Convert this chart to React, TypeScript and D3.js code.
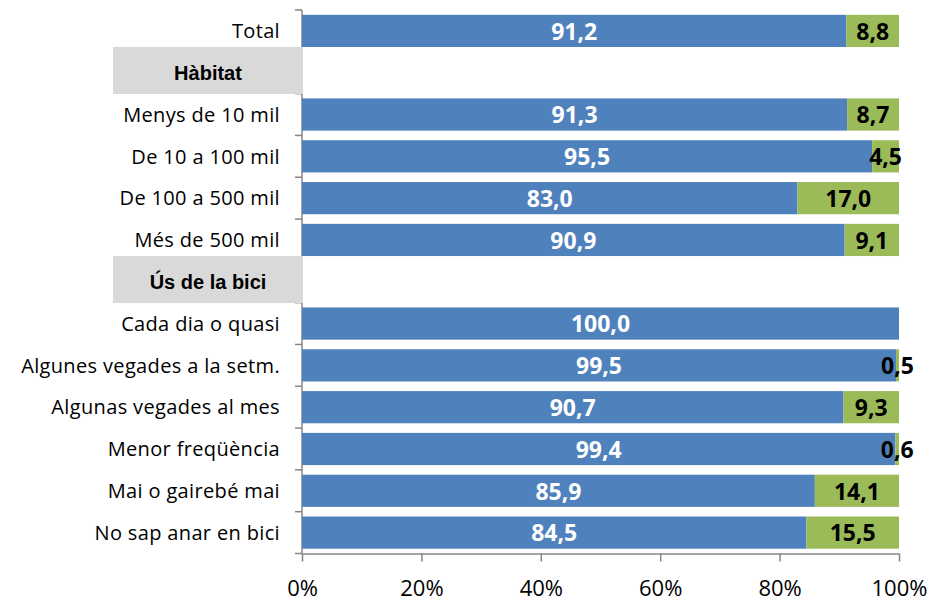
import React, { useEffect, useRef } from 'react';
import * as d3 from 'd3';

const categories = [
  'Total',
  'Hàbitat',
  'Menys de 10 mil',
  'De 10 a 100 mil',
  'De 100 a 500 mil',
  'Més de 500 mil',
  'Ús de la bici',
  'Cada dia o quasi',
  'Algunes vegades a la setm.',
  'Algunas vegades al mes',
  'Menor freqüència',
  'Mai o gairebé mai',
  'No sap anar en bici'
];
const headers = ['Hàbitat', 'Ús de la bici'];
const blueValues = [91.2, null, 91.3, 95.5, 83.0, 90.9, null, 100.0, 99.5, 90.7, 99.4, 85.9, 84.5];
const greenValues = [8.8, null, 8.7, 4.5, 17.0, 9.1, null, 0, 0.5, 9.3, 0.6, 14.1, 15.5];
const xTicks = [0, 20, 40, 60, 80, 100];

const fmt = (v: number) => v.toFixed(1).replace('.', ',');

const App = () => {
  const ref = useRef<SVGSVGElement>(null);

  useEffect(() => {
    document.body.style.margin = '0';
    const svg = d3.select(ref.current);
    svg.selectAll('*').remove();

    const left = 302;
    const right = 899;
    const top = 10;
    const bottom = 553.5;
    const font = '"Open Sans", "Noto Sans", sans-serif';

    const x = d3.scaleLinear().domain([0, 100]).range([left, right]);
    const y = d3.scaleBand().domain(categories).range([top, bottom]).paddingInner(0.23).paddingOuter(0.115);
    const step = y.step();

    const rows = categories.map((c, i) => ({ c, blue: blueValues[i], green: greenValues[i] }));
    const mid = (c: string) => (y(c) as number) + y.bandwidth() / 2;

    // category axis line + ticks
    const ax = svg.append('g').attr('stroke', '#868686').attr('stroke-width', 1.5);
    ax.append('line').attr('x1', left).attr('x2', left).attr('y1', top).attr('y2', bottom);
    d3.range(categories.length + 1).forEach(i => {
      ax.append('line').attr('x1', left - 7).attr('x2', left)
        .attr('y1', top + i * step).attr('y2', top + i * step);
    });

    // x axis
    const xa = svg.append('g').attr('transform', `translate(0,${bottom})`)
      .call(d3.axisBottom(x).tickValues(xTicks).tickSize(8).tickSizeOuter(0).tickFormat(d => `${d}%`));
    xa.select('.domain').attr('stroke', '#868686').attr('stroke-width', 1.5);
    xa.selectAll('.tick line').attr('stroke', '#868686').attr('stroke-width', 1.5);
    xa.selectAll('.tick text').attr('y', 42.5).attr('dy', 0)
      .attr('font-family', font).attr('font-size', 22).attr('fill', '#000');

    // header boxes (drawn over the axis line)
    rows.filter(d => headers.includes(d.c)).forEach(d => {
      const cy = mid(d.c);
      svg.append('rect')
        .attr('x', 113).attr('y', cy - 25.7).attr('width', 190).attr('height', 47)
        .attr('fill', '#d9d9d9');
      svg.append('text')
        .attr('x', 208).attr('y', cy + 7)
        .attr('text-anchor', 'middle')
        .attr('font-family', '"Liberation Sans", Arial, sans-serif')
        .attr('font-weight', 'bold').attr('font-size', 20)
        .text(d.c);
    });

    const bars = rows.filter(d => d.blue !== null);

    // category labels
    svg.append('g').selectAll('text')
      .data(rows.filter(d => !headers.includes(d.c)))
      .join('text')
      .attr('x', 280)
      .attr('y', d => mid(d.c))
      .attr('dy', '0.36em')
      .attr('text-anchor', 'end')
      .attr('font-family', font).attr('font-size', 20).attr('letter-spacing', 0.35)
      .attr('fill', '#000')
      .text(d => d.c);

    svg.append('g').selectAll('rect')
      .data(bars).join('rect')
      .attr('x', x(0)).attr('y', d => y(d.c) as number)
      .attr('width', d => x(d.blue as number) - x(0))
      .attr('height', y.bandwidth())
      .attr('fill', '#4f81bd');

    svg.append('g').selectAll('rect')
      .data(bars.filter(d => (d.green as number) > 0)).join('rect')
      .attr('x', d => x(d.blue as number)).attr('y', d => y(d.c) as number)
      .attr('width', d => x(100) - x(d.blue as number))
      .attr('height', y.bandwidth())
      .attr('fill', '#9bbb59');

    svg.append('g').selectAll('text')
      .data(bars).join('text')
      .attr('x', d => x((d.blue as number) / 2))
      .attr('y', d => mid(d.c))
      .attr('dy', '0.38em').attr('text-anchor', 'middle')
      .attr('font-family', font).attr('font-weight', 'bold').attr('font-size', 23)
      .attr('fill', '#fff')
      .text(d => fmt(d.blue as number));

    svg.append('g').selectAll('text')
      .data(bars.filter(d => (d.green as number) > 0)).join('text')
      .attr('x', d => x((d.blue as number) + (d.green as number) / 2))
      .attr('y', d => mid(d.c))
      .attr('dy', '0.38em').attr('text-anchor', 'middle')
      .attr('font-family', font).attr('font-weight', 'bold').attr('font-size', 23)
      .attr('fill', '#000')
      .text(d => fmt(d.green as number));
  }, []);

  return <svg ref={ref} width={942} height={603} style={{ display: 'block', background: '#fff' }} />;
};

export default App;
